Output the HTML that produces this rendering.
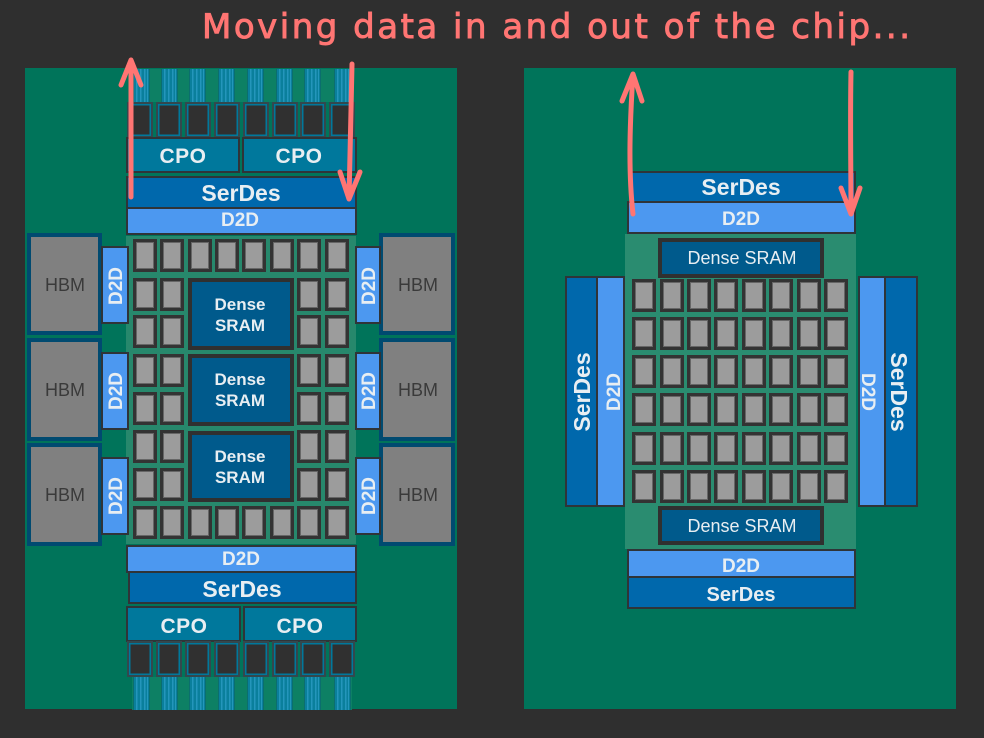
<!DOCTYPE html>
<html><head><meta charset="utf-8"><style>
html,body{margin:0;padding:0;background:#2f2f2f;width:984px;height:738px;overflow:hidden}
svg{display:block}
text{font-family:"Liberation Sans",sans-serif;fill:#e8eef2;text-anchor:middle}
.b{stroke:#2f3438;stroke-width:2}
.s{fill:#0068ac}.d{fill:#4c98f0}.p{fill:#00789c}.r{fill:#005a8c}
.hb{fill:#808080;stroke:#004a70;stroke-width:4}
.ar{fill:none;stroke:#ff7573;stroke-width:5;stroke-linecap:round;stroke-linejoin:round}
.ht{fill:#3a3a3a;font-size:18px}
.w{font-weight:bold}
</style></head><body>
<svg width="984" height="738" viewBox="0 0 984 738" xmlns="http://www.w3.org/2000/svg">
<defs>
<g id="c"><rect x="0" y="0" width="24" height="33" fill="#333"/><rect x="3" y="3" width="18" height="27" fill="#666"/><rect x="4" y="4" width="16" height="25" fill="#9c9c9c"/></g>
<g id="f"><rect x="-1" width="17" height="33" fill="#0b6e6e"/><rect width="15" height="33" fill="#0a7f9c"/><rect x="2" width="1.5" height="33" fill="#2496bb"/><rect x="6" width="1.5" height="33" fill="#2496bb"/><rect x="10" width="1.5" height="33" fill="#2496bb"/><rect x="13" width="1" height="33" fill="#2496bb"/></g>
<g id="io"><rect x="-1" y="0" width="26" height="36" fill="#33484e"/><rect x="1" y="2" width="22" height="32" fill="#00789c"/><rect x="2.5" y="3.5" width="19" height="29" fill="#303030"/></g>
<g id="lr"><use href="#c" x="133"/><use href="#c" x="160"/><use href="#c" x="297"/><use href="#c" x="325"/></g>
<g id="lf"><use href="#c" x="133"/><use href="#c" x="160"/><use href="#c" x="188"/><use href="#c" x="215"/><use href="#c" x="242"/><use href="#c" x="270"/><use href="#c" x="297"/><use href="#c" x="325"/></g>
<g id="rr"><use href="#c" x="632"/><use href="#c" x="660"/><use href="#c" x="687"/><use href="#c" x="714"/><use href="#c" x="742"/><use href="#c" x="769"/><use href="#c" x="797"/><use href="#c" x="824"/></g>
<g id="ios"><use href="#io" x="128"/><use href="#io" x="157"/><use href="#io" x="186"/><use href="#io" x="215"/><use href="#io" x="244"/><use href="#io" x="273"/><use href="#io" x="301"/><use href="#io" x="330"/></g>
<g id="fs"><rect x="132" width="220" height="33" fill="#0d8064"/><use href="#f" x="134"/><use href="#f" x="162"/><use href="#f" x="190"/><use href="#f" x="219"/><use href="#f" x="248"/><use href="#f" x="277"/><use href="#f" x="305"/><use href="#f" x="335"/></g>
</defs>
<rect width="984" height="738" fill="#2f2f2f"/>

<!-- left panel -->
<rect x="25" y="68" width="432" height="641" fill="#00745a"/>
<use href="#fs" y="69"/>
<use href="#ios" y="102"/>
<rect class="p b" x="127" y="138" width="112" height="34"/>
<rect class="p b" x="243" y="138" width="113" height="34"/>
<text class="w" x="183" y="163" font-size="21" letter-spacing=".5">CPO</text>
<text class="w" x="299" y="163" font-size="21" letter-spacing=".5">CPO</text>
<rect class="s b" x="127" y="177" width="229" height="31"/>
<text class="w" x="241" y="201" font-size="23">SerDes</text>
<rect class="d b" x="127" y="208" width="229" height="26"/>
<text class="w" x="240" y="226" font-size="19">D2D</text>

<rect x="126" y="236" width="230" height="308" fill="#27886c"/>
<use href="#lf" y="239"/>
<use href="#lr" y="278"/><use href="#lr" y="315"/><use href="#lr" y="354"/><use href="#lr" y="392"/><use href="#lr" y="430"/><use href="#lr" y="468"/>
<use href="#lf" y="506"/>
<rect class="r" x="190" y="280" width="102" height="68" stroke="#303030" stroke-width="4"/>
<rect class="r" x="190" y="356" width="102" height="68" stroke="#303030" stroke-width="4"/>
<rect class="r" x="190" y="433" width="102" height="67" stroke="#303030" stroke-width="4"/>
<text class="w" x="240" y="310" font-size="17">Dense</text><text class="w" x="240" y="331" font-size="17">SRAM</text>
<text class="w" x="240" y="385" font-size="17">Dense</text><text class="w" x="240" y="406" font-size="17">SRAM</text>
<text class="w" x="240" y="462" font-size="17">Dense</text><text class="w" x="240" y="483" font-size="17">SRAM</text>

<rect class="hb" x="29" y="235" width="71" height="98"/>
<rect class="hb" x="29" y="340" width="71" height="99"/>
<rect class="hb" x="29" y="445" width="71" height="99"/>
<rect class="hb" x="381" y="235" width="72" height="98"/>
<rect class="hb" x="381" y="340" width="72" height="99"/>
<rect class="hb" x="381" y="445" width="72" height="99"/>
<text class="ht" x="65" y="291">HBM</text><text class="ht" x="65" y="396">HBM</text><text class="ht" x="65" y="501">HBM</text>
<text class="ht" x="418" y="291">HBM</text><text class="ht" x="418" y="396">HBM</text><text class="ht" x="418" y="501">HBM</text>

<rect class="d b" x="102" y="247" width="26" height="76"/>
<rect class="d b" x="102" y="353" width="26" height="76"/>
<rect class="d b" x="102" y="458" width="26" height="76"/>
<rect class="d b" x="356" y="247" width="24" height="76"/>
<rect class="d b" x="356" y="353" width="24" height="76"/>
<rect class="d b" x="356" y="458" width="24" height="76"/>
<text class="w" font-size="19" transform="translate(122,286) rotate(-90)">D2D</text>
<text class="w" font-size="19" transform="translate(122,391) rotate(-90)">D2D</text>
<text class="w" font-size="19" transform="translate(122,496) rotate(-90)">D2D</text>
<text class="w" font-size="19" transform="translate(375,286) rotate(-90)">D2D</text>
<text class="w" font-size="19" transform="translate(375,391) rotate(-90)">D2D</text>
<text class="w" font-size="19" transform="translate(375,496) rotate(-90)">D2D</text>

<rect class="d b" x="127" y="546" width="229" height="26"/>
<text class="w" x="241" y="565" font-size="19">D2D</text>
<rect class="s b" x="129" y="572" width="227" height="31"/>
<text class="w" x="242" y="597" font-size="23">SerDes</text>
<rect class="p b" x="127" y="607" width="113" height="34"/>
<rect class="p b" x="244" y="607" width="112" height="34"/>
<text class="w" x="184" y="633" font-size="21" letter-spacing=".5">CPO</text>
<text class="w" x="300" y="633" font-size="21" letter-spacing=".5">CPO</text>
<use href="#ios" y="641"/>
<use href="#fs" y="677"/>

<!-- right panel -->
<rect x="524" y="68" width="432" height="641" fill="#00745a"/>
<rect x="625" y="234" width="231" height="315" fill="#2a8c70"/>
<rect class="s b" x="631" y="172" width="224" height="30"/>
<text class="w" x="741" y="195" font-size="23">SerDes</text>
<rect class="d b" x="628" y="202" width="227" height="31"/>
<text class="w" x="741" y="225" font-size="19">D2D</text>
<rect class="r" x="660" y="240" width="162" height="36" stroke="#303030" stroke-width="4"/>
<text x="742" y="264" font-size="18">Dense SRAM</text>
<use href="#rr" y="279"/><use href="#rr" y="317"/><use href="#rr" y="355"/><use href="#rr" y="393"/><use href="#rr" y="432"/><use href="#rr" y="470"/>
<rect class="r" x="660" y="508" width="162" height="35" stroke="#303030" stroke-width="4"/>
<text x="742" y="532" font-size="18">Dense SRAM</text>
<rect class="d b" x="628" y="550" width="227" height="27"/>
<text class="w" x="741" y="572" font-size="19">D2D</text>
<rect class="s b" x="628" y="577" width="227" height="31"/>
<text class="w" x="741" y="601" font-size="20">SerDes</text>

<rect class="s b" x="566" y="277" width="31" height="229"/>
<rect class="d b" x="597" y="277" width="27" height="229"/>
<rect class="d b" x="859" y="277" width="26" height="229"/>
<rect class="s b" x="885" y="277" width="32" height="229"/>
<text class="w" font-size="23" transform="translate(590,392) rotate(-90)">SerDes</text>
<text class="w" font-size="19" transform="translate(620,392) rotate(-90)">D2D</text>
<text class="w" font-size="19" transform="translate(862,392) rotate(90)">D2D</text>
<text class="w" font-size="23" transform="translate(891,392) rotate(90)">SerDes</text>

<!-- arrows -->
<path class="ar" d="M131 197 L131 60 M121 85 L131 60 L141 85"/>
<path class="ar" d="M352 64 C351 110 350 160 349 199 M340 172 L349 199 L360 172"/>
<path class="ar" d="M633 214 C628 170 630 120 633 74 M622 101 L633 74 L642 101"/>
<path class="ar" d="M851 72 C850 120 851 170 851 214 M841 188 L851 214 L860 188"/>

<text x="556" y="38" font-size="34" textLength="708" lengthAdjust="spacing" stroke="#ff7573" stroke-width="0.9" style="font-family:'DejaVu Sans',sans-serif;fill:#ff7573">Moving data in and out of the chip...</text>
</svg>
</body></html>
